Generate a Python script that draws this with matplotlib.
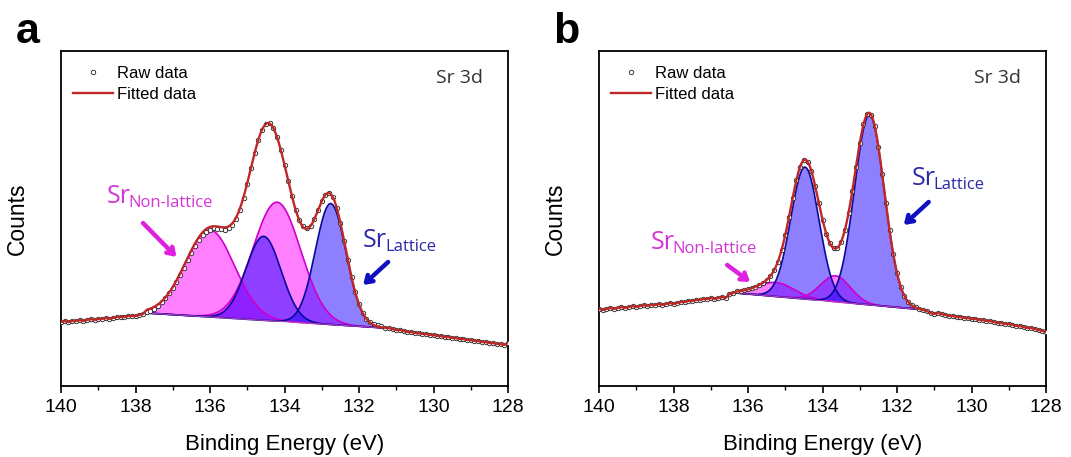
import numpy as np
import matplotlib
matplotlib.use('Agg')
import matplotlib.pyplot as plt
from matplotlib.lines import Line2D

# ---------------- data ----------------
energy = np.round(np.linspace(140, 128, 121), 1)   # binding energy grid, 0.1 eV

# panel a raw counts (arbitrary units), 140 -> 128 eV
a_raw = ([64, 65, 64, 65, 65, 66, 65, 66, 67, 66, 67, 67, 68, 67, 68, 69, 69, 69, 70, 70, 70, 71, 72]
         + [74, 75, 77, 80, 84, 88, 93, 98,
            104, 111, 118, 126, 133, 140, 146, 151, 154, 156,
            158, 157, 157, 156, 158, 161, 167, 176, 188, 202,
            218, 233, 246, 256, 262, 263, 258, 249, 236, 221,
            205, 190, 176, 166, 160, 158, 160, 167, 176, 185,
            191, 193, 189, 178, 163, 145, 126, 109, 94, 82,
            73, 67, 64, 62, 61, 60, 58]
         + [58, 57, 56, 56, 55, 54, 54, 53, 53, 52, 52, 51, 51,
            50, 50, 49, 49, 48, 48, 47, 47, 46, 46,
            45, 45, 44, 44, 43, 43, 42, 42, 41, 43])

# panel b raw counts
b_raw = ([77, 76, 77, 78, 77, 78, 79, 78, 79, 80, 79, 80, 81, 80, 81, 81, 82, 81, 82, 83,
          82, 83, 84, 84, 85, 85, 86, 86, 87, 87, 88, 87, 88, 89, 88, 92, 93]
         + [95, 95, 96, 97,
            98, 99, 101, 103, 106, 110, 116, 124, 136, 151,
            169, 188, 206, 219, 226, 224, 215, 200, 183, 166,
            152, 143, 138, 138, 144, 156, 173, 195, 219, 243,
            262, 272, 271, 260, 239, 212, 183, 156, 132, 113,
            99, 90, 84, 81, 79]
         + [77, 76, 75, 73, 72,
            73, 72, 71, 70, 70, 69, 69, 68, 68, 67,
            67, 66, 66, 65, 65, 64, 63, 63, 62, 62,
            61, 60, 60, 59, 58, 58, 57, 56, 55, 54])

# fitted components (Gaussian): centre (eV), height, sigma, type
a_window = [131.3, 137.7]
a_background = [58, 73]
a_centers = [136.0, 134.56, 134.2, 132.76]
a_heights = [87, 84, 119, 121]
a_sigmas = [0.66, 0.47, 0.64, 0.41]
a_kinds = ['non', 'lat', 'non', 'lat']

b_window = [131.5, 136.3]
b_background = [77, 93]
b_centers = [135.25, 134.47, 133.65, 132.74]
b_heights = [14, 132, 26, 190]
b_sigmas = [0.50, 0.38, 0.40, 0.40]
b_kinds = ['non', 'lat', 'non', 'lat']

# ---------------- style ----------------
SANS = ['Liberation Sans', 'DejaVu Sans']
KR = ['Open Sans', 'DejaVu Sans']
plt.rcParams['font.family'] = SANS

PINK_FILL = (1.0, 0.0, 1.0, 0.5)
PINK_EDGE = '#CC00CC'
BLUE_FILL = (0.12, 0.0, 1.0, 0.5)
BLUE_EDGE = '#0A0A9A'
RED = '#C02828'
MAG_TXT = '#D335D3'
BLUE_TXT = '#2A2AA8'

fig = plt.figure(figsize=(10.71, 4.57), dpi=100)
axw, axh, axb = 447 / 1071, 335 / 457, 71 / 457
ax_a = fig.add_axes([61 / 1071, axb, axw, axh])
ax_b = fig.add_axes([599 / 1071, axb, axw, axh])


def draw(ax, raw, window, bg, centers, heights, sigmas, kinds):
    raw = np.asarray(raw, dtype=float)
    lo, hi = window
    Ef = np.linspace(lo, hi, 400)
    base = np.interp(Ef, window, bg)
    comps = [h * np.exp(-(Ef - c) ** 2 / (2 * s ** 2)) for c, h, s in zip(centers, heights, sigmas)]
    order = [i for i, k in enumerate(kinds) if k == 'non'] + [i for i, k in enumerate(kinds) if k == 'lat']
    for i in order:
        fc, ec = (PINK_FILL, PINK_EDGE) if kinds[i] == 'non' else (BLUE_FILL, BLUE_EDGE)
        ax.fill_between(Ef, base, base + comps[i], facecolor=fc, edgecolor='none', zorder=2)
        ax.plot(Ef, base + comps[i], color=ec, lw=1.2, zorder=3)
    ax.plot(Ef, base, color='#B040C0', lw=0.8, zorder=3)
    env = base + np.sum(comps, axis=0)
    # raw data
    ax.plot(energy, raw, ls='none', marker='o', ms=3.2, mfc='white', mec='#222222', mew=0.6, zorder=4)
    # fitted: raw outside the fit window, envelope inside
    left = energy > hi
    right = energy < lo
    fx = np.concatenate([energy[left], Ef[::-1], energy[right]])
    fy = np.concatenate([raw[left], env[::-1], raw[right]])
    ax.plot(fx, fy, color=RED, lw=1.7, zorder=5)

    ax.set_xlim(140, 128)
    ax.set_ylim(0, 335)
    ax.set_xticks(np.arange(140, 127, -2))
    ax.set_xticks(np.arange(139, 128, -2), minor=True)
    ax.set_yticks([])
    ax.tick_params(axis='x', which='major', direction='out', length=5, width=1.2, labelsize=14, pad=4)
    ax.tick_params(axis='x', which='minor', direction='out', length=3, width=1.0)
    for sp in ax.spines.values():
        sp.set_linewidth(1.3)
    ax.set_xlabel('Binding Energy (eV)', fontsize=16, labelpad=13)
    ax.set_ylabel('Counts', fontsize=16.5, labelpad=23)
    ax.text(0.944, 0.905, 'Sr 3d', transform=ax.transAxes, ha='right', va='baseline',
            fontsize=14, color='#333333', family=KR)
    h_raw = Line2D([], [], ls='none', marker='o', ms=3.2, mfc='white', mec='#222222', mew=0.6)
    h_fit = Line2D([], [], color=RED, lw=1.7)
    ax.legend([h_raw, h_fit], ['Raw data', 'Fitted data'], loc='upper left',
              bbox_to_anchor=(0.005, 0.985), frameon=False, fontsize=12, handlelength=2.4,
              handletextpad=0.2, labelspacing=0.35, borderaxespad=0.2)


def sr_label(ax, x, y, sub, color):
    t = ax.text(x, y, 'Sr', fontsize=18, color=color, family=KR, ha='left', va='baseline', zorder=6)
    ax.annotate(sub, xy=(1, 0), xycoords=t, xytext=(-1.5, -1.5), textcoords='offset points',
                fontsize=12, color=color, family=KR, ha='left', va='bottom', zorder=6)


def arrow(ax, tail, tip, color):
    ax.annotate('', xy=tip, xytext=tail,
                arrowprops=dict(arrowstyle='->,head_length=0.45,head_width=0.3', lw=3.2,
                                color=color, shrinkA=0, shrinkB=0), zorder=6)


draw(ax_a, a_raw, a_window, a_background, a_centers, a_heights, a_sigmas, a_kinds)
draw(ax_b, b_raw, b_window, b_background, b_centers, b_heights, b_sigmas, b_kinds)

sr_label(ax_a, 138.77, 183, 'Non-lattice', MAG_TXT)
arrow(ax_a, (137.8, 163), (136.9, 129), '#E020E0')
sr_label(ax_a, 131.89, 139, 'Lattice', BLUE_TXT)
arrow(ax_a, (131.22, 124), (131.89, 101), '#1010C0')

sr_label(ax_b, 138.62, 137, 'Non-lattice', MAG_TXT)
arrow(ax_b, (136.56, 121), (135.94, 104), '#E020E0')
sr_label(ax_b, 131.6, 201, 'Lattice', BLUE_TXT)
arrow(ax_b, (131.15, 184), (131.82, 161), '#1010C0')

fig.text(16 / 1071, 1 - 43 / 457, 'a', fontsize=31, fontweight='bold', ha='left', va='baseline')
fig.text(553 / 1071, 1 - 43 / 457, 'b', fontsize=31, fontweight='bold', ha='left', va='baseline')

fig.savefig('out.png', dpi=100)
